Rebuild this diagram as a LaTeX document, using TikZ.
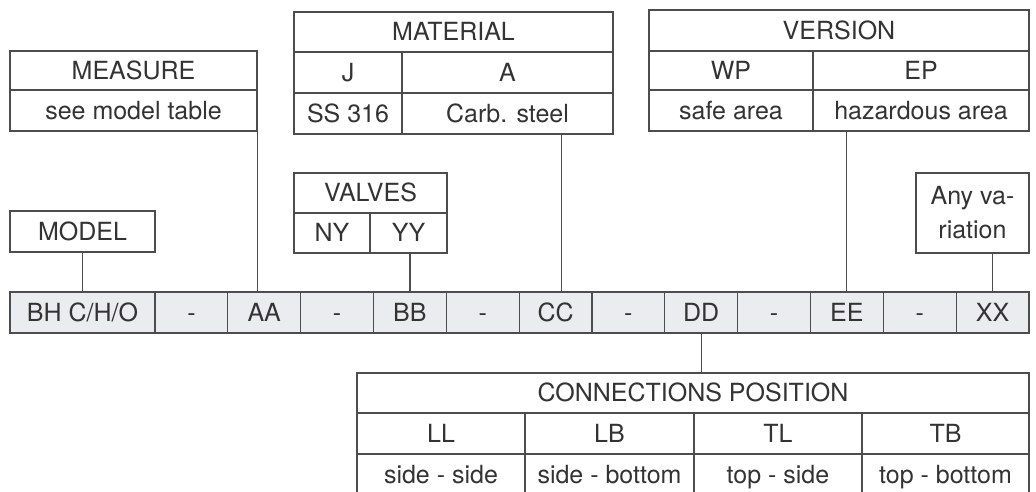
\documentclass[tikz,border=0pt]{standalone}
\usepackage{fontspec}
\setmainfont{TeX Gyre Heros}
\definecolor{linegray}{HTML}{4D4D4D}
\definecolor{barfill}{HTML}{EBECF0}
\definecolor{inkgray}{HTML}{333333}
\tikzset{
  cellbox/.style={draw=linegray, line width=1.2pt, inner sep=0pt, text=inkgray,
    text height=17.5pt, text depth=0pt, font=\fontsize{25}{34}\selectfont},
  codebox/.style={cellbox, fill=barfill},
  link/.style={draw=linegray, line width=1.2pt}
}
% table cell: [style] name, x1, y1, x2, y2, text
\newcommand{\tcell}[7][cellbox]{%
  \node[#1, minimum width={((#5)-(#3))*1pt}, minimum height={((#6)-(#4))*1pt}]
    (#2) at ({((#3)+(#5))/2},{((#4)+(#6))/2}) {#7};}

\begin{document}
\begin{tikzpicture}[x=1pt,y=-1pt]
\useasboundingbox (0,0) rectangle (1036,491);
\pgfmathsetmacro{\cellw}{72.83}
% code bar
\tcell[codebox]{code0}{10}{292}{155}{333}{BH C/H/O}
\foreach \lbl [count=\i] in {-,AA,-,BB,-,CC,-,DD,-,EE,-,XX}
  \tcell[codebox]{c\i}{155+(\i-1)*\cellw}{292}{155+\i*\cellw}{333}{\lbl};
% model
\tcell{model}{10}{211}{155}{252}{MODEL}
% measure
\tcell{meas1}{10}{51}{257}{90}{MEASURE}
\tcell{meas2}{10}{90}{257}{131}{see model table}
% material
\tcell{mattitle}{294}{12}{613}{52}{MATERIAL}
\tcell{matJ1}{294}{52}{402}{93}{J}
\tcell{matA1}{402}{52}{613}{93}{A}
\tcell{matJ2}{294}{93}{402}{134}{SS 316}
\tcell{matA2}{402}{93}{613}{134}{Carb. steel}
% valves
\tcell{valtitle}{294}{173}{447}{213}{VALVES}
\tcell{valN}{294}{213}{370}{253}{NY}
\tcell{valY}{370}{213}{447}{253}{YY}
% version
\tcell{vertitle}{649}{10}{1029}{51}{VERSION}
\tcell{verWP1}{649}{51}{813}{90}{WP}
\tcell{verEP1}{813}{51}{1029}{90}{EP}
\tcell{verWP2}{649}{90}{813}{131}{safe area}
\tcell{verEP2}{813}{90}{1029}{131}{hazardous area}
% variation
\tcell[cellbox, text height={}, text depth={}, align=center]{anyvar}{916}{173}{1029}{253}{Any va-\\riation}
% connections position
\tcell{conntitle}{357}{373}{1029}{413}{CONNECTIONS POSITION}
\tcell{connLL1}{357}{413}{525}{454}{LL}
\tcell{connLB1}{525}{413}{694}{454}{LB}
\tcell{connTL1}{694}{413}{862}{454}{TL}
\tcell{connTB1}{862}{413}{1029}{454}{TB}
\tcell{connLL2}{357}{454}{525}{495}{side - side}
\tcell{connLB2}{525}{454}{694}{495}{side - bottom}
\tcell{connTL2}{694}{454}{862}{495}{top - side}
\tcell{connTB2}{862}{454}{1029}{495}{top - bottom}
% links
\draw[link] (model.south) -- (code0.north);
\draw[link] (meas2.south east) -- (meas2.south east |- c2.north);
\draw[link] ([xshift=6pt]c6.north) -- ([xshift=6pt]c6.north |- matA2.south);
\draw[link] (c4.north) -- (c4.north |- valY.south);
\draw[link] (c10.north) -- (c10.north |- verEP2.south);
\draw[link] (c12.north) -- (c12.north |- anyvar.south);
\draw[link] (c8.south) -- (c8.south |- conntitle.north);
\end{tikzpicture}
\end{document}
